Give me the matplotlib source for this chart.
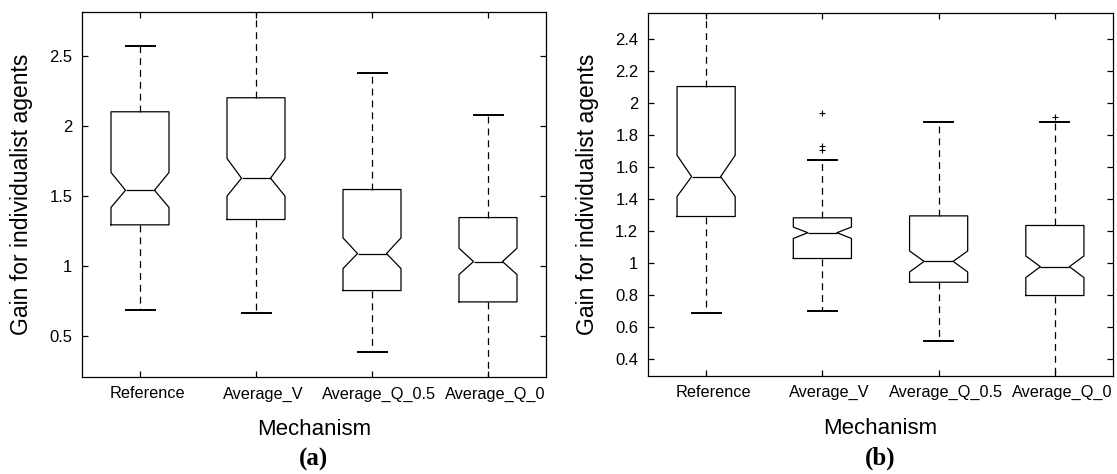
import matplotlib
matplotlib.use("Agg")
import matplotlib.pyplot as plt
import matplotlib.transforms as mtransforms

categories = ["Reference", "Average_V", "Average_Q_0.5", "Average_Q_0"]

# Panel (a)
a_med    = [1.54, 1.626, 1.088, 1.031]
a_q1     = [1.293, 1.331, 0.824, 0.743]
a_q3     = [2.10, 2.20, 1.545, 1.345]
a_whislo = [0.686, 0.662, 0.388, 0.15]
a_whishi = [2.567, 2.95, 2.376, 2.076]
a_cilo   = [1.417, 1.498, 0.981, 0.938]
a_cihi   = [1.667, 1.767, 1.20, 1.126]
a_fliers = [[], [], [], []]
a_yticks = [0.5, 1, 1.5, 2, 2.5]
a_yticklabels = ["0.5", "1", "1.5", "2", "2.5"]

# Panel (b)
b_med    = [1.541, 1.191, 1.012, 0.979]
b_q1     = [1.292, 1.030, 0.882, 0.799]
b_q3     = [2.103, 1.284, 1.296, 1.236]
b_whislo = [0.687, 0.702, 0.513, 0.25]
b_whishi = [2.65, 1.642, 1.881, 1.881]
b_cilo   = [1.417, 1.155, 0.946, 0.911]
b_cihi   = [1.674, 1.226, 1.077, 1.046]
b_fliers = [[], [1.935, 1.732, 1.707], [], [1.913]]
b_yticks = [0.4, 0.6, 0.8, 1.0, 1.2, 1.4, 1.6, 1.8, 2.0, 2.2, 2.4]
b_yticklabels = ["0.4", "0.6", "0.8", "1", "1.2", "1.4", "1.6", "1.8", "2", "2.2", "2.4"]

ylabel_text = "Gain for individualist agents"
xlabel_text = "Mechanism"
panel_labels = ["(a)", "(b)"]

SANS = ["Liberation Sans", "DejaVu Sans"]
SERIF = ["Liberation Serif", "DejaVu Serif"]


def make_stats(med, q1, q3, lo, hi, cilo, cihi, fliers):
    stats = []
    for i in range(len(med)):
        stats.append(dict(med=med[i], q1=q1[i], q3=q3[i], whislo=lo[i],
                          whishi=hi[i], cilo=cilo[i], cihi=cihi[i],
                          fliers=fliers[i], label=categories[i]))
    return stats


fig = plt.figure(figsize=(11.17, 4.74), dpi=100)
axes_rects = [
    [82 / 1117, 1 - 377 / 474, (546 - 82) / 1117, (377 - 12.3) / 474],
    [648 / 1117, 1 - 375.5 / 474, (1113 - 648) / 1117, (375.5 - 12.5) / 474],
]
panel_data = [
    (make_stats(a_med, a_q1, a_q3, a_whislo, a_whishi, a_cilo, a_cihi, a_fliers),
     (0.207, 2.81), a_yticks, a_yticklabels),
    (make_stats(b_med, b_q1, b_q3, b_whislo, b_whishi, b_cilo, b_cihi, b_fliers),
     (0.30, 2.565), b_yticks, b_yticklabels),
]

positions = [1, 2, 3, 4]
for k, (rect, (stats, ylim, yt, ytl)) in enumerate(zip(axes_rects, panel_data)):
    ax = fig.add_axes(rect)
    ax.bxp(stats, positions=positions, widths=0.5, shownotches=True,
           showfliers=True,
           boxprops=dict(color="black", linewidth=0.9),
           whiskerprops=dict(color="black", linewidth=0.9, linestyle=(0, (5.5, 4))),
           capprops=dict(color="black", linewidth=1.4),
           medianprops=dict(color="black", linewidth=0.9),
           flierprops=dict(marker="+", markersize=5, markeredgecolor="black",
                           markeredgewidth=0.8, linestyle="none"))
    ax.set_xlim(0.5, 4.5)
    ax.set_ylim(*ylim)
    ax.set_yticks(yt)
    ax.set_yticklabels(ytl, fontfamily=SANS, fontsize=12)
    ax.set_xticks(positions)
    ax.set_xticklabels([])
    # MATLAB-style tick labels, slightly offset to the right of the ticks
    lbl_tr = ax.get_xaxis_transform() + mtransforms.ScaledTranslation(
        0.07, -0.17, fig.dpi_scale_trans)
    for p, name in zip(positions, categories):
        ax.text(p, 0, name, transform=lbl_tr, ha="center", va="center",
                fontfamily=SANS, fontsize=11.7, clip_on=False)
    ax.tick_params(direction="in", length=4, width=0.9, top=True, right=True,
                   pad=7)
    for sp in ax.spines.values():
        sp.set_linewidth(0.9)
    ax.set_ylabel(ylabel_text, fontfamily=SANS, fontsize=16.5)
    ax.yaxis.set_label_coords(-0.13, 0.5)
    ax.yaxis.label.set_va("center")
    ax.set_xlabel(xlabel_text, fontfamily=SANS, fontsize=16)
    ax.xaxis.set_label_coords(0.5, -0.145)
    ax.xaxis.label.set_va("center")
    ax.text(0.5, -0.227, panel_labels[k], transform=ax.transAxes, ha="center",
            va="center", fontfamily=SERIF, fontweight="bold", fontsize=18)

fig.savefig("out.png", dpi=100)
